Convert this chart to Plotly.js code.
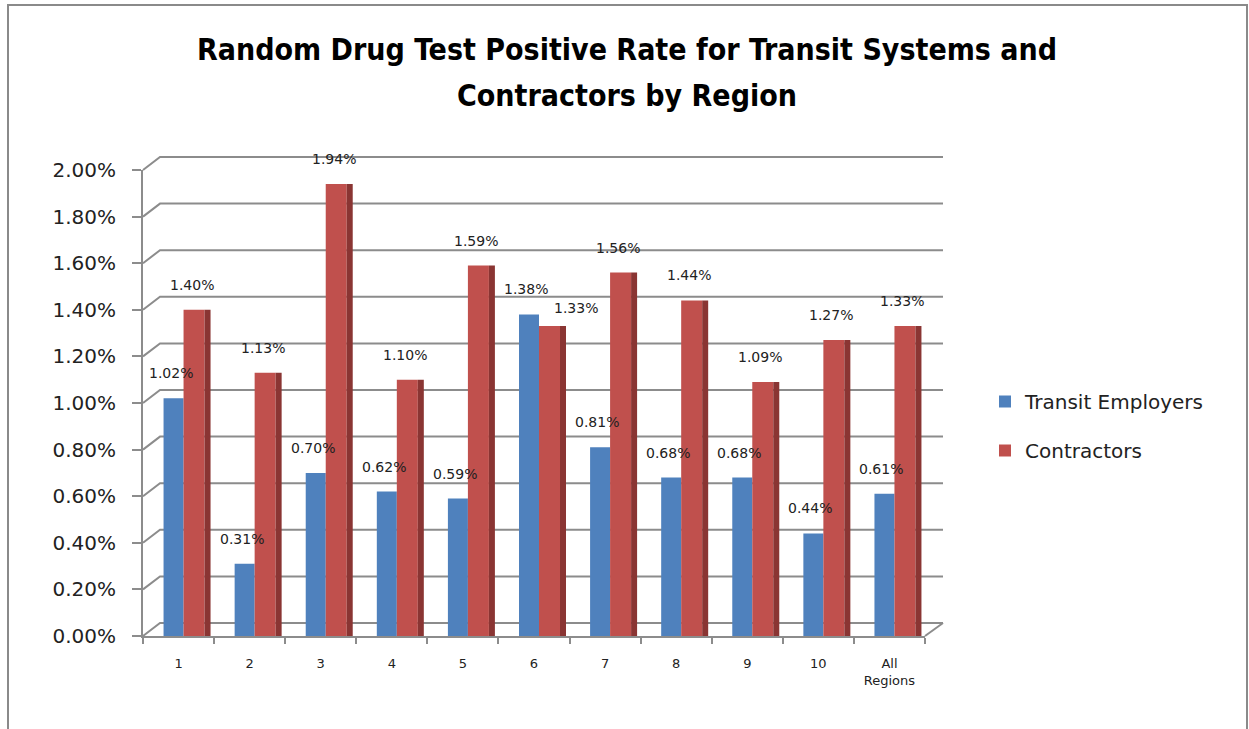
<!DOCTYPE html>
<html>
<head>
<meta charset="utf-8">
<script src="https://cdn.plot.ly/plotly-3.0.1.min.js"></script>
<style>html,body{margin:0;padding:0;background:#fff;}#chart{width:1249px;height:729px;}</style>
</head>
<body>
<div id="chart"></div>
<script>
// ---- data ----
const categories = ['1', '2', '3', '4', '5', '6', '7', '8', '9', '10', 'All<br>Regions'];
const transitEmployers = [1.02, 0.31, 0.70, 0.62, 0.59, 1.38, 0.81, 0.68, 0.68, 0.44, 0.61];
const contractors = [1.40, 1.13, 1.94, 1.10, 1.59, 1.33, 1.56, 1.44, 1.09, 1.27, 1.33];
const yTickValues = [0, 0.2, 0.4, 0.6, 0.8, 1.0, 1.2, 1.4, 1.6, 1.8, 2.0];
const yTickLabels = ['0.00%', '0.20%', '0.40%', '0.60%', '0.80%', '1.00%', '1.20%', '1.40%', '1.60%', '1.80%', '2.00%'];
const seriesNames = ['Transit Employers', 'Contractors'];

// ---- geometry / style ----
const W = 1249, H = 729;
const M = {l: 143, r: 306, t: 170, b: 93};
const PW = W - M.l - M.r, PH = H - M.t - M.b;
const Y_MAX = 2.0;
const FRONT_RIGHT = 925;          // px, right end of front floor edge
const DEPTH_X = 17, DEPTH_Y = 13; // 3D depth offset
const catPx = (FRONT_RIGHT - M.l) / categories.length;
const px2x = p => (p - M.l) / PW;
const py2y = p => (M.t + PH - p) / PH;
const val2py = v => M.t + PH - (v / Y_MAX) * PH;

const BLUE = '#4F81BD', RED = '#C0504D', RED_SIDE = '#8A3533';
const GRID = '#8C8C8C';
const labelFont = {family: 'DejaVu Sans', size: 14, color: '#222'};

// gridlines (3D style) as decorative shapes
const shapes = [];
yTickValues.forEach(v => {
  const py = val2py(v);
  shapes.push({
    type: 'path', xref: 'paper', yref: 'paper',
    path: `M ${px2x(M.l)} ${py2y(py)} L ${px2x(M.l + DEPTH_X)} ${py2y(py - DEPTH_Y)} L ${px2x(W - M.r)} ${py2y(py - DEPTH_Y)}`,
    line: {color: GRID, width: 2}, layer: 'below'
  });
});
// floor right edge
shapes.push({
  type: 'line', xref: 'paper', yref: 'paper',
  x0: px2x(FRONT_RIGHT), y0: py2y(val2py(0)), x1: px2x(W - M.r), y1: py2y(val2py(0) - DEPTH_Y),
  line: {color: GRID, width: 2}, layer: 'below'
});
// outer chart border
shapes.push({
  type: 'rect', xref: 'paper', yref: 'paper',
  x0: px2x(8), y0: py2y(745), x1: px2x(1247), y1: py2y(5),
  line: {color: '#8A8A8A', width: 2}, fillcolor: 'rgba(0,0,0,0)', layer: 'below'
});

// data labels (x given as category index)
const annotations = [];
const labelOverrides = {'1-5': {xshift: 42, yshift: 8}};
[transitEmployers, contractors].forEach((arr, s) => {
  arr.forEach((v, i) => {
    const o = labelOverrides[s + '-' + i] || {};
    annotations.push({
      x: i, y: v, xref: 'x', yref: 'y',
      text: v.toFixed(2) + '%', showarrow: false,
      yanchor: 'bottom', xanchor: 'center',
      xshift: o.xshift !== undefined ? o.xshift : (s === 0 ? -8 : 13),
      yshift: o.yshift !== undefined ? o.yshift : 15,
      font: labelFont
    });
  });
});

const traces = [
  {
    type: 'bar', name: seriesNames[0], x: categories, y: transitEmployers,
    marker: {color: BLUE}, offset: -15 / catPx, width: 20 / catPx,
    legendgroup: 'a', hoverinfo: 'x+y'
  },
  {
    type: 'bar', name: seriesNames[1], x: categories, y: contractors,
    marker: {color: RED}, offset: 5 / catPx, width: 21 / catPx,
    legendgroup: 'b', hoverinfo: 'x+y'
  },
  {
    type: 'bar', name: seriesNames[1] + ' side', x: categories, y: contractors,
    marker: {color: RED_SIDE}, offset: 26 / catPx, width: 6 / catPx,
    showlegend: false, hoverinfo: 'skip'
  }
];

const layout = {
  width: W, height: H,
  margin: M,
  paper_bgcolor: '#fff', plot_bgcolor: 'rgba(0,0,0,0)',
  barmode: 'overlay',
  title: {
    text: '<span style="font-size:30px">Random Drug Test Positive Rate for Transit Systems and</span><br><span style="font-size:30px">Contractors by Region</span>',
    font: {family: 'DejaVu Sans Condensed', size: 35, color: '#000', weight: 'bold'},
    xref: 'container', x: 627 / W, xanchor: 'center',
    yref: 'container', y: 1 - 60 / H, yanchor: 'top'
  },
  xaxis: {
    type: 'category', domain: [0, (FRONT_RIGHT - M.l) / PW],
    range: [-0.5, categories.length - 0.5],
    tickson: 'boundaries', ticks: 'outside', ticklen: 6, tickwidth: 2, tickcolor: GRID,
    showline: true, linecolor: GRID, linewidth: 2,
    showgrid: false, zeroline: false, fixedrange: true,
    ticklabelstandoff: 14,
    tickfont: {family: 'DejaVu Sans', size: 13, color: '#222'}
  },
  yaxis: {
    range: [0, Y_MAX], tickmode: 'array', tickvals: yTickValues, ticktext: yTickLabels,
    ticks: 'outside', ticklen: 9, tickwidth: 2, tickcolor: GRID,
    showline: true, linecolor: GRID, linewidth: 2,
    showgrid: false, zeroline: false, fixedrange: true,
    ticklabelstandoff: 12,
    tickfont: {family: 'DejaVu Sans', size: 20, color: '#222'}
  },
  legend: {
    x: px2x(985), xanchor: 'left', y: py2y(426), yanchor: 'middle',
    font: {family: 'DejaVu Sans', size: 20, color: '#222'},
    tracegroupgap: 20, bgcolor: 'rgba(0,0,0,0)'
  },
  shapes: shapes,
  annotations: annotations,
  showlegend: true
};

Plotly.newPlot('chart', traces, layout, {displayModeBar: false, staticPlot: true});
</script>
</body>
</html>
